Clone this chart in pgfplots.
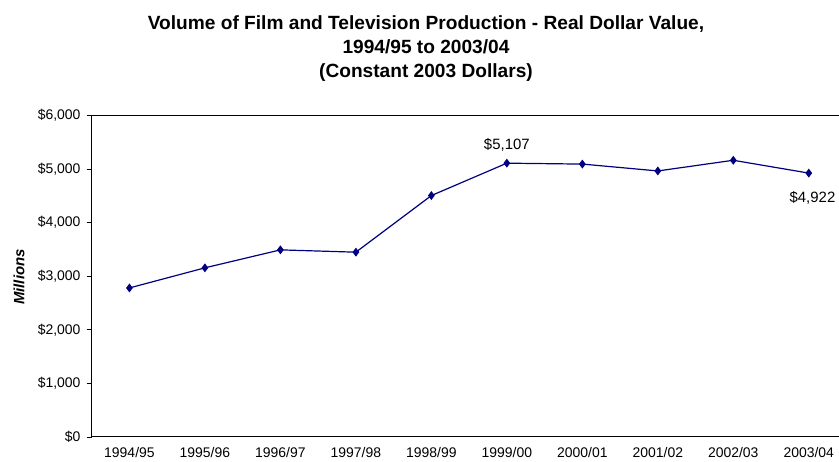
\documentclass[border=0pt]{standalone}
\usepackage{fontspec}
\setmainfont{Liberation Sans}
\usepackage{pgfplots}
\pgfplotsset{compat=1.18}
\definecolor{navy}{HTML}{000080}

\begin{document}
\begin{tikzpicture}[x=1bp,y=1bp]
\begin{axis}[
    at={(91.7bp,25bp)}, anchor=south west,
    scale only axis, width=754.8bp, height=321.7bp,
    xmin=-0.5, xmax=9.5, ymin=0, ymax=6000,
    xtick={0,...,9},
    xticklabels={1994/95,1995/96,1996/97,1997/98,1998/99,1999/00,2000/01,2001/02,2002/03,2003/04},
    ytick={0,1000,...,6000},
    yticklabels={{\$0},{\$1,000},{\$2,000},{\$3,000},{\$4,000},{\$5,000},{\$6,000}},
    xtick pos=bottom, ytick pos=left,
    tick align=outside,
    major x tick style={draw=none},
    major y tick style={black, line width=0.8bp},
    major tick length=5bp,
    axis line style={black, line width=1bp},
    tick label style={font=\fontsize{14}{16}\selectfont, inner sep=0pt},
    yticklabel style={xshift=-6bp},
    xticklabel style={yshift=-5bp},
]
\addplot[navy, line width=1.2bp, mark=diamond*, mark size=3.5bp, mark options={fill=navy}]
  coordinates {(0,2780) (1,3155) (2,3490) (3,3447) (4,4503) (5,5107) (6,5090) (7,4962) (8,5161) (9,4922)};
\node[font=\fontsize{15}{17}\selectfont] at (axis cs:5,5107) [yshift=18bp] {\$5,107};
\node[font=\fontsize{15}{17}\selectfont] at (axis cs:9,4922) [xshift=3.7bp, yshift=-25bp] {\$4,922};
\end{axis}
\node[rotate=90, font=\bfseries\itshape\fontsize{15}{17}\selectfont] at (19,185) {Millions};
\node[font=\bfseries\fontsize{19.2}{24.5}\selectfont, align=center] at (426,413.5)
  {Volume of Film and Television Production - Real Dollar Value,\\1994/95 to 2003/04\\(Constant 2003 Dollars)};
\pgfresetboundingbox
\path[use as bounding box] (0,0) rectangle (839,462);
\end{tikzpicture}
\end{document}
